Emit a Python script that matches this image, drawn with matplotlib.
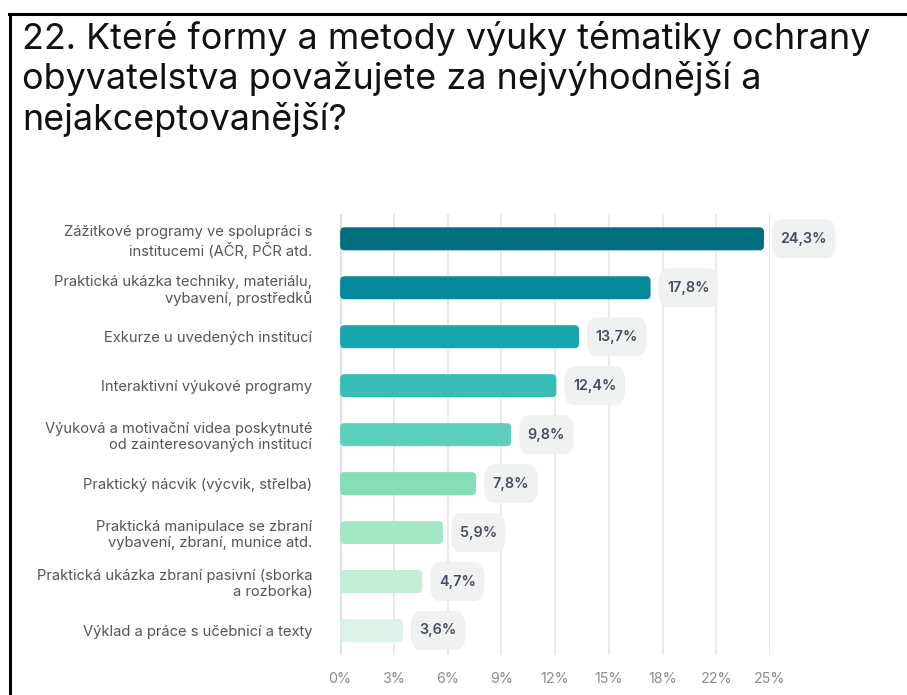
import matplotlib
matplotlib.use("Agg")
import matplotlib.pyplot as plt
from matplotlib.lines import Line2D
from matplotlib.patches import FancyBboxPatch

plt.rcParams["font.family"] = ["Inter", "DejaVu Sans"]

TITLE = ("22. Které formy a metody výuky tématiky ochrany\n"
         "obyvatelstva považujete za nejvýhodnější a\n"
         "nejakceptovanější?")

categories = [
    "Zážitkové programy ve spolupráci s\ninstitucemi (AČR, PČR atd.",
    "Praktická ukázka techniky, materiálu,\nvybavení, prostředků",
    "Exkurze u uvedených institucí",
    "Interaktivní výukové programy",
    "Výuková a motivační videa poskytnuté\nod zainteresovaných institucí",
    "Praktický nácvik (výcvik, střelba)",
    "Praktická manipulace se zbraní\nvybavení, zbraní, munice atd.",
    "Praktická ukázka zbraní pasivní (sborka\na rozborka)",
    "Výklad a práce s učebnicí a texty",
]
values = [24.3, 17.8, 13.7, 12.4, 9.8, 7.8, 5.9, 4.7, 3.6]
colors = ["#00707F", "#06899A", "#17A6AB", "#38BDB6", "#5ECFB8",
          "#86DEB9", "#A3E8C5", "#C2EDD8", "#DCF2E9"]
x_max = 24.65
tick_vals = [x_max / 8 * i for i in range(9)]
tick_labels = ["0%", "3%", "6%", "9%", "12%", "15%", "18%", "22%", "25%"]

fig = plt.figure(figsize=(9.07, 6.95), dpi=100)
ax = fig.add_axes([0.375, 0.0576, 0.474, 0.634])

# frame lines of the screenshot
fig.add_artist(Line2D([0.010, 1.0], [0.980, 0.980], color="black", lw=2.2,
                      transform=fig.transFigure))
fig.add_artist(Line2D([0.011, 0.011], [0.980, 0.0], color="black", lw=2.2,
                      transform=fig.transFigure))

fig.text(0.024, 0.970, TITLE, fontsize=25.8, color="#111111", va="top",
         ha="left", linespacing=1.2)

y = list(range(len(values)))
bars = ax.barh(y, values, height=0.47, color=colors, zorder=3)
for b in bars:
    b.set_visible(False)
    p = FancyBboxPatch((b.get_x(), b.get_y()), b.get_width(), b.get_height(),
                       boxstyle="round,pad=0,rounding_size=0.25",
                       mutation_aspect=0.47 / 1.2,
                       fc=b.get_facecolor(), ec="none", zorder=3)
    ax.add_patch(p)

for yi, v in zip(y, values):
    ax.annotate(f"{v:.1f}%".replace(".", ","), (v, yi), xytext=(12, 0),
                textcoords="offset points", va="center", ha="left",
                fontsize=10.3, fontweight="semibold", color="#4A4B5E",
                annotation_clip=False, zorder=4,
                bbox=dict(boxstyle="round,pad=0.6,rounding_size=0.7",
                          mutation_aspect=1.45, fc="#F0F1F1", ec="none"))

ax.set_xlim(0, x_max)
ax.set_ylim(len(values) - 0.5, -0.5)
ax.set_xticks(tick_vals)
ax.set_xticklabels(tick_labels, color="#8C8C8C", fontsize=10.3)
ax.set_yticks(y)
ax.set_yticklabels(categories, color="#555555", fontsize=10.6, linespacing=1.2)
ax.tick_params(axis="y", length=0, pad=20)
ax.tick_params(axis="x", length=0, pad=12)
ax.grid(axis="x", color="#E6E6EA", lw=1.2, zorder=0)
ax.axvline(0, color="#D9DCF2", lw=2, zorder=2)
for s in ax.spines.values():
    s.set_visible(False)

fig.savefig("out.png", dpi=100)
